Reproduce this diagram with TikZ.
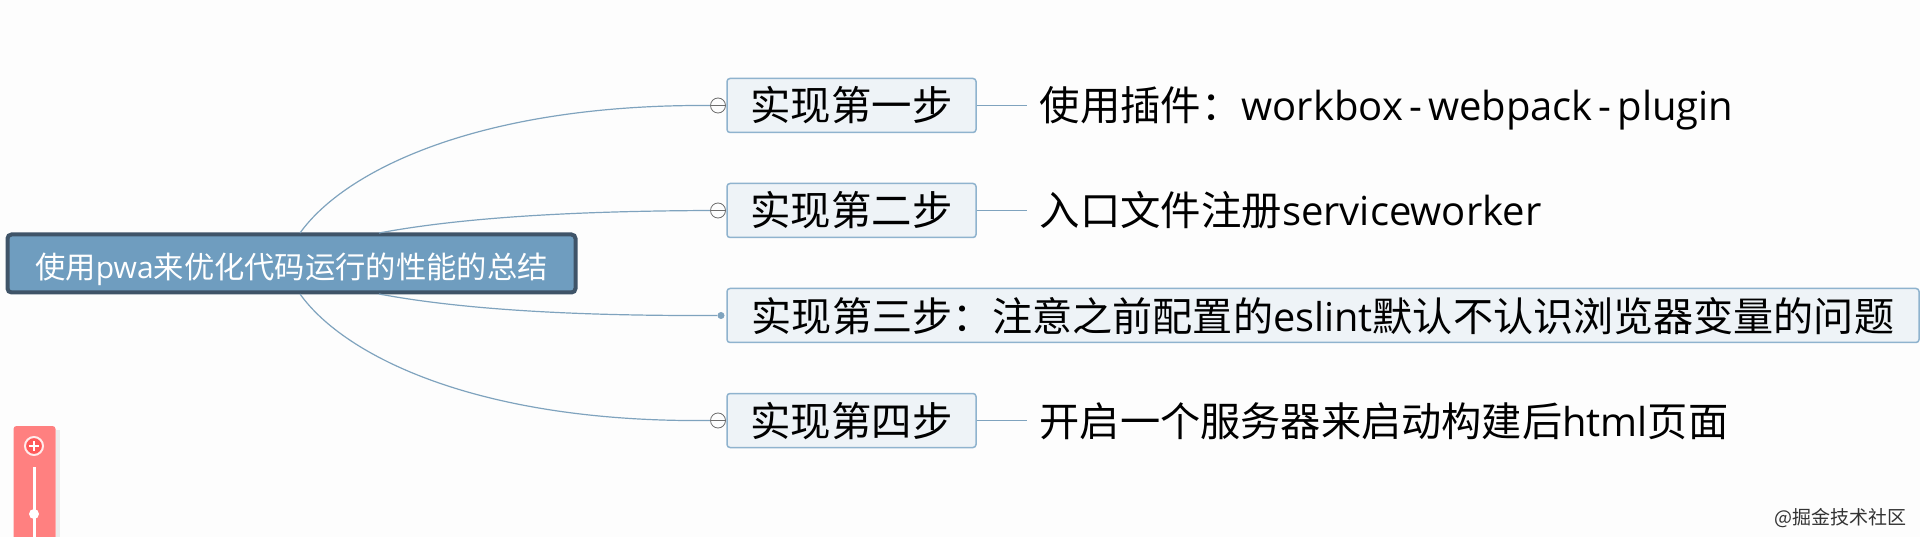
\documentclass[tikz,border=0pt]{standalone}
\usepackage{fontspec}
\setmainfont{Noto Sans CJK SC}
\newfontfamily\latinfont[Scale=0.99]{Open Sans}
\definecolor{pagebg}{HTML}{FDFDFD}
\definecolor{rootfill}{HTML}{6F9DBF}
\definecolor{rootedge}{HTML}{3F5468}
\definecolor{stepfill}{HTML}{EEF3F7}
\definecolor{stepedge}{HTML}{8FB3CE}
\definecolor{linkcol}{HTML}{7FA3BE}
\definecolor{zoomcol}{HTML}{FF8080}
\tikzset{
  rootbox/.style={draw=rootedge, fill=rootfill, line width=4pt, rounded corners=4pt, minimum width=568pt, minimum height=58pt, inner sep=0pt, text=white, font=\fontsize{30.3}{33}\selectfont, text height=32pt, text depth=2pt},
  stepbox/.style={draw=stepedge, fill=stepfill, line width=1.5pt, rounded corners=3pt, minimum height=54pt, inner sep=0pt, text=black, font=\fontsize{40.4}{44}\selectfont, text height=36pt, text depth=5pt},
  leafbox/.style={anchor=west, inner xsep=12.5pt, inner ysep=0pt, text=black, font=\fontsize{40.4}{44}\selectfont, text height=36pt, text depth=5pt},
  togglebox/.style={circle, draw=gray!85!black, fill=pagebg, line width=.8pt, minimum size=15pt, inner sep=0pt},
  dotbox/.style={circle, fill=linkcol, minimum size=7pt, inner sep=0pt},
  link/.style={draw=linkcol, line width=1.2pt}
}
\begin{document}
\begin{tikzpicture}[x=1pt,y=-1pt]
  % Page
  \useasboundingbox (0,0) rectangle (1920,537);
  \fill[pagebg] (0,0) rectangle (1920,537);

  % Free ends on the root box
  \coordinate (rootA) at (300,233);
  \coordinate (rootB) at (379,233);
  \coordinate (rootC) at (379,294);
  \coordinate (rootD) at (300,294);

  % Main nodes
  \node[rootbox] (root) at (291.5,263.5) {使用{\latinfont pwa}来优化代码运行的性能的总结};
  \node[stepbox, minimum width=249pt] (step1) at (851.5,105.5) {实现第一步};
  \node[stepbox, minimum width=249pt] (step2) at (851.5,210.5) {实现第二步};
  \node[stepbox, minimum width=1192pt, font=\fontsize{40.1}{44}\selectfont] (step3) at (1323,315.5) {实现第三步：注意之前配置的{\latinfont eslint}默认不认识浏览器变量的问题};
  \node[stepbox, minimum width=249pt] (step4) at (851.5,420.5) {实现第四步};

  % Leaves
  \node[leafbox] (leaf1) at (1027,105.5) {使用插件：{\latinfont workbox\kern6pt-\kern6pt webpack\kern6pt-\kern6pt plugin}};
  \node[leafbox] (leaf2) at (1027,210.5) {入口文件注册{\latinfont serviceworker}};
  \node[leafbox, font=\fontsize{40.2}{44}\selectfont] (leaf4) at (1027,420.5) {开启一个服务器来启动构建后{\latinfont html}页面};

  % Toggles
  \node[togglebox] (tog1) at (718,105.5) {};
  \node[togglebox] (tog2) at (718,210.5) {};
  \node[dotbox] (dot3) at (721,315.5) {};
  \node[togglebox] (tog4) at (718,420.5) {};
  \draw[gray!85!black, line width=.8pt] (tog1.west) -- (tog1.east);
  \draw[gray!85!black, line width=.8pt] (tog2.west) -- (tog2.east);
  \draw[gray!85!black, line width=.8pt] (tog4.west) -- (tog4.east);

  % Connectors
  \draw[link] (rootA) .. controls (345,170) and (480,104) .. (tog1.west);
  \draw[link] (rootB) .. controls (470,216) and (590,211) .. (tog2.west);
  \draw[link] (rootC) .. controls (470,311) and (590,316) .. (dot3.west);
  \draw[link] (rootD) .. controls (345,357) and (480,423) .. (tog4.west);
  \draw[link] (step1.east) -- (leaf1.west);
  \draw[link] (step2.east) -- (leaf2.west);
  \draw[link] (step4.east) -- (leaf4.west);

  % Zoom control
  \fill[black!8] (56,430) rectangle (60,537);
  \fill[zoomcol, rounded corners=3pt] (13.5,426) rectangle (55.5,545);
  \draw[white!85!zoomcol, line width=2pt, fill=zoomcol!70!red] (34,446) circle (9pt);
  \draw[white, line width=1.5pt] (29,446) -- (39,446) (34,441) -- (34,451);
  \draw[white, line width=3pt] (34,467) -- (34,537);
  \fill[white] (34,514) circle (5pt);

  % Watermark
  \node[anchor=east, inner sep=0pt, text=black!80, font=\fontsize{19}{22}\selectfont] (mark) at (1907,518) {@掘金技术社区};
\end{tikzpicture}
\end{document}
